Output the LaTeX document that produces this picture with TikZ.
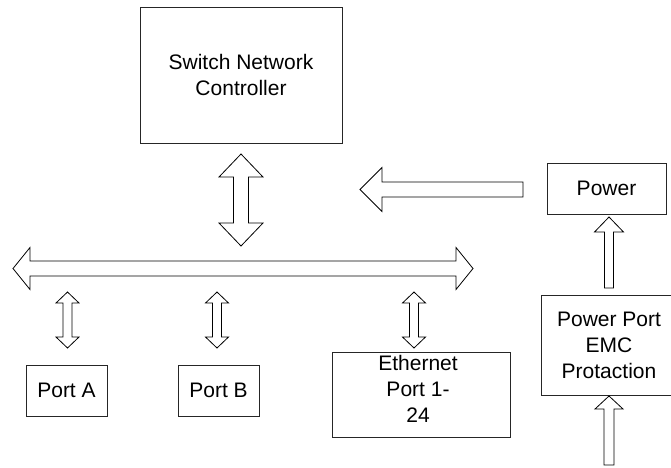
\documentclass[tikz,border=0pt]{standalone}
\usepackage{fontspec}
\setmainfont{Liberation Sans}

% Vertical double block arrow: x, top tip y, bottom tip y, shaft half width, head half width, head length
\newcommand\vdblarrow[6]{%
  \draw[blockarrow] (#1,#2) -- (#1+#5,#2+#6) -- (#1+#4,#2+#6) -- (#1+#4,#3-#6)
    -- (#1+#5,#3-#6) -- (#1,#3) -- (#1-#5,#3-#6) -- (#1-#4,#3-#6)
    -- (#1-#4,#2+#6) -- (#1-#5,#2+#6) -- cycle;}
% Horizontal double block arrow: y, left tip x, right tip x, shaft half width, head half width, head length
\newcommand\hdblarrow[6]{%
  \draw[blockarrow] (#2,#1) -- (#2+#6,#1-#5) -- (#2+#6,#1-#4) -- (#3-#6,#1-#4)
    -- (#3-#6,#1-#5) -- (#3,#1) -- (#3-#6,#1+#5) -- (#3-#6,#1+#4)
    -- (#2+#6,#1+#4) -- (#2+#6,#1+#5) -- cycle;}
% Upward single block arrow: x, tail y, tip y, shaft half width, head half width, head length
\newcommand\uparrowblk[6]{%
  \draw[blockarrow] (#1-#4,#2) -- (#1-#4,#3+#6) -- (#1-#5,#3+#6) -- (#1,#3)
    -- (#1+#5,#3+#6) -- (#1+#4,#3+#6) -- (#1+#4,#2) -- cycle;}
% Leftward single block arrow: y, tail x, tip x, shaft half width, head half width, head length
\newcommand\leftarrowblk[6]{%
  \draw[blockarrow] (#2,#1-#4) -- (#3+#6,#1-#4) -- (#3+#6,#1-#5) -- (#3,#1)
    -- (#3+#6,#1+#5) -- (#3+#6,#1+#4) -- (#2,#1+#4) -- cycle;}

\begin{document}
\begin{tikzpicture}[x=1pt,y=-1pt,
  box/.style={draw=black!85, line width=0.8pt, inner sep=0pt, align=center,
    font=\fontsize{21}{26}\selectfont},
  lbl/.style={inner sep=0pt, align=center, font=\fontsize{21}{26}\selectfont},
  blockarrow/.style={draw=black, line width=0.8pt, fill=white, line join=miter}]
\useasboundingbox (0,0) rectangle (671,467);
\clip (0,0) rectangle (671,467);

% blocks
\node[box, minimum width=202pt, minimum height=136pt] (ctrl) at (241,75)
  {Switch Network\\Controller};
\node[box, minimum width=119pt, minimum height=51pt] (power) at (606.5,188.5) {Power};
\node[box, minimum width=136pt, minimum height=100pt] (pport) at (609,345)
  {Power Port\\EMC\\Protaction};
\node[box, minimum width=81pt, minimum height=51pt] (porta) at (66.5,390.5) {Port A};
\node[box, minimum width=81pt, minimum height=51pt] (portb) at (218.5,390.5) {Port B};
\node[box, minimum width=178pt, minimum height=85pt] (eth) at (421,394.5) {};
\node[lbl] (ethtext) at (418,389) {Ethernet\\Port 1-\\24};

% controller <-> bus
\vdblarrow{241}{154}{246}{7.5}{22}{23}
% bus
\hdblarrow{268.5}{13}{473}{7.5}{21}{17}
% power feed towards the bus
\leftarrowblk{189.5}{523}{360}{7.5}{22}{22}
% EMC protection -> power
\uparrowblk{609}{288}{217}{4.5}{14.5}{15}
% supply input -> EMC protection
\uparrowblk{609}{465}{396}{5}{14}{13}
% bus <-> ports
\vdblarrow{67.5}{292}{348}{4.5}{11.5}{11}
\vdblarrow{217}{292}{348}{4.5}{11.5}{11}
\vdblarrow{414}{292}{348}{4.5}{11.5}{11}
\end{tikzpicture}
\end{document}
